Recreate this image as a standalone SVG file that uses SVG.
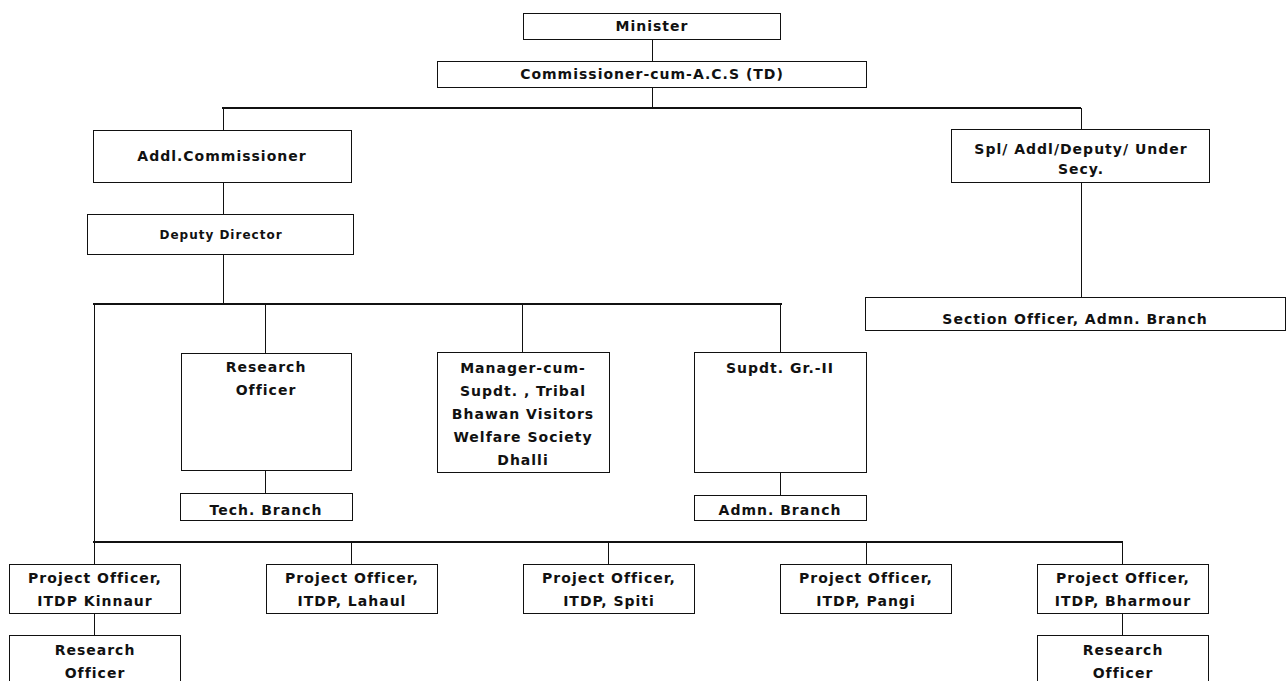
<svg xmlns="http://www.w3.org/2000/svg" width="1287" height="681" viewBox="0 0 1287 681">
<style>
.box{fill:#fff;stroke:#111;stroke-width:1}
.t{font-family:"DejaVu Sans",Verdana,sans-serif;font-weight:bold;font-size:14px;letter-spacing:1px;fill:#111;text-anchor:middle}
.s{font-size:12px}
.c{stroke:#111;stroke-width:1;fill:none}
.h{stroke:#111;stroke-width:2;fill:none}
</style>
<rect width="1287" height="681" fill="#fff"/>
<g id="connectors">
<path class="c" d="M652.5 39V61M652.5 87V108"/>
<path class="h" d="M222 108H1081"/>
<path class="c" d="M223.5 108V130M1081.5 108V129M223.5 182V214M1081.5 182V297M223.5 254V304"/>
<path class="h" d="M93 304H782"/>
<path class="c" d="M94.5 304V542M265.5 304V353M522.5 304V352M780.5 304V352M265.5 470V493M780.5 472V495"/>
<path class="h" d="M93 542H1123"/>
<path class="c" d="M94.5 542V564M351.5 542V564M608.5 542V564M866.5 542V564M1122.5 542V564M94.5 613V635M1122.5 613V635"/>
</g>
<g id="minister"><rect class="box" x="523.5" y="13.5" width="257" height="26"/><text class="t" x="652" y="31">Minister</text></g>
<g id="commissioner"><rect class="box" x="437.5" y="61.5" width="429" height="26"/><text class="t" x="652" y="79">Commissioner-cum-A.C.S (TD)</text></g>
<g id="addl"><rect class="box" x="93.5" y="130.5" width="258" height="52"/><text class="t" x="222" y="161">Addl.Commissioner</text></g>
<g id="spl"><rect class="box" x="951.5" y="129.5" width="258" height="53"/><text class="t" x="1081" y="154">Spl/ Addl/Deputy/ Under</text><text class="t" x="1081" y="174">Secy.</text></g>
<g id="section"><rect class="box" x="865.5" y="297.5" width="420" height="33"/><text class="t" x="1075" y="324">Section Officer, Admn. Branch</text></g>
<g id="deputy"><rect class="box" x="87.5" y="214.5" width="266" height="40"/><text class="t s" x="221" y="239">Deputy Director</text></g>
<g id="research"><rect class="box" x="181.5" y="353.5" width="170" height="117"/><text class="t" x="266" y="372">Research</text><text class="t" x="266" y="395">Officer</text></g>
<g id="tech"><rect class="box" x="180.5" y="493.5" width="172" height="27"/><text class="t" x="266" y="515">Tech. Branch</text></g>
<g id="manager"><rect class="box" x="437.5" y="352.5" width="172" height="120"/><text class="t" x="523" y="373">Manager-cum-</text><text class="t" x="523" y="396">Supdt. , Tribal</text><text class="t" x="523" y="419">Bhawan Visitors</text><text class="t" x="523" y="442">Welfare Society</text><text class="t" x="523" y="465">Dhalli</text></g>
<g id="supdt"><rect class="box" x="694.5" y="352.5" width="172" height="120"/><text class="t" x="780" y="373">Supdt. Gr.-II</text></g>
<g id="admn"><rect class="box" x="694.5" y="495.5" width="172" height="25"/><text class="t" x="780" y="515">Admn. Branch</text></g>
<g id="po-kinnaur"><rect class="box" x="9.5" y="564.5" width="171" height="49"/><text class="t" x="95" y="583">Project Officer,</text><text class="t" x="95" y="606">ITDP Kinnaur</text></g>
<g id="po-lahaul"><rect class="box" x="266.5" y="564.5" width="171" height="49"/><text class="t" x="352" y="583">Project Officer,</text><text class="t" x="352" y="606">ITDP, Lahaul</text></g>
<g id="po-spiti"><rect class="box" x="523.5" y="564.5" width="171" height="49"/><text class="t" x="609" y="583">Project Officer,</text><text class="t" x="609" y="606">ITDP, Spiti</text></g>
<g id="po-pangi"><rect class="box" x="780.5" y="564.5" width="171" height="49"/><text class="t" x="866" y="583">Project Officer,</text><text class="t" x="866" y="606">ITDP, Pangi</text></g>
<g id="po-bharmour"><rect class="box" x="1037.5" y="564.5" width="171" height="49"/><text class="t" x="1123" y="583">Project Officer,</text><text class="t" x="1123" y="606">ITDP, Bharmour</text></g>
<g id="ro-kinnaur"><rect class="box" x="9.5" y="635.5" width="171" height="60"/><text class="t" x="95" y="655">Research</text><text class="t" x="95" y="678">Officer</text></g>
<g id="ro-bharmour"><rect class="box" x="1037.5" y="635.5" width="171" height="60"/><text class="t" x="1123" y="655">Research</text><text class="t" x="1123" y="678">Officer</text></g>
</svg>
